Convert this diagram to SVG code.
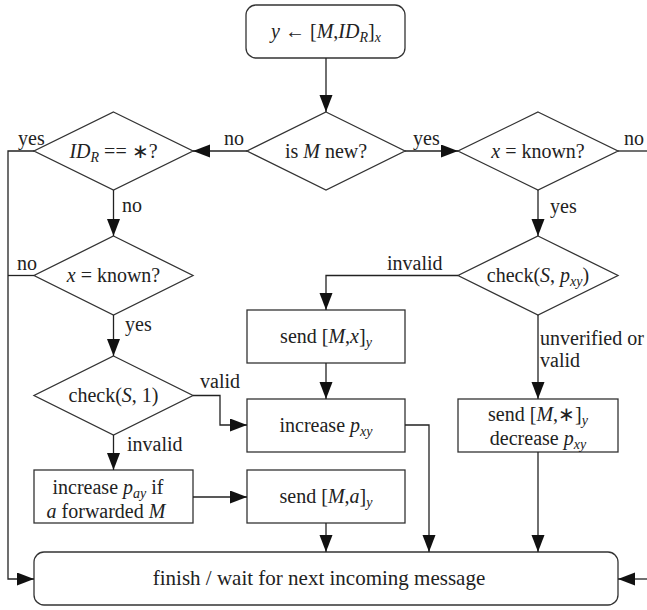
<svg xmlns="http://www.w3.org/2000/svg" width="647" height="610" viewBox="0 0 647 610">
<defs>
<marker id="ah" markerUnits="userSpaceOnUse" markerWidth="18" markerHeight="14" refX="17" refY="6.5" orient="auto">
<path d="M0,0 L17,6.5 L0,13 z" fill="#111"/>
</marker>
</defs>
<rect width="647" height="610" fill="#fff"/>

<g id="start">
<rect fill="#fff" stroke="#333" stroke-width="1.3" x="246" y="5" width="159" height="53" rx="10"/>
<text style="font-family:'Liberation Serif','Times New Roman',Tinos,serif" font-size="20" fill="#222" text-anchor="middle" x="326" y="38"><tspan font-style="italic">y</tspan> ← [<tspan font-style="italic">M</tspan>,<tspan font-style="italic">ID</tspan><tspan font-style="italic" font-size="14" dy="4">R</tspan><tspan dy="-4">]</tspan><tspan font-style="italic" font-size="14" dy="4">x</tspan></text>
</g>

<g id="isNew">
<polygon fill="#fff" stroke="#333" stroke-width="1.3" points="326,112 405,151 326,190 247,151"/>
<text style="font-family:'Liberation Serif','Times New Roman',Tinos,serif" font-size="20" fill="#222" text-anchor="middle" x="326" y="158">is <tspan font-style="italic">M</tspan> new?</text>
</g>

<g id="idr">
<polygon fill="#fff" stroke="#333" stroke-width="1.3" points="113.5,112 193,151 113.5,190 34,151"/>
<text style="font-family:'Liberation Serif','Times New Roman',Tinos,serif" font-size="20" fill="#222" text-anchor="middle" x="113.5" y="158"><tspan font-style="italic">ID</tspan><tspan font-style="italic" font-size="14" dy="4">R</tspan><tspan dy="-4"> == ∗?</tspan></text>
</g>

<g id="xKnownR">
<polygon fill="#fff" stroke="#333" stroke-width="1.3" points="538,112 618,151 538,190 458,151"/>
<text style="font-family:'Liberation Serif','Times New Roman',Tinos,serif" font-size="20" fill="#222" text-anchor="middle" x="538" y="158"><tspan font-style="italic">x</tspan> = known?</text>
</g>

<g id="checkR">
<polygon fill="#fff" stroke="#333" stroke-width="1.3" points="538,236 618,275.5 538,315 458,275.5"/>
<text style="font-family:'Liberation Serif','Times New Roman',Tinos,serif" font-size="20" fill="#222" text-anchor="middle" x="538" y="282">check(<tspan font-style="italic">S</tspan>, <tspan font-style="italic">p</tspan><tspan font-style="italic" font-size="14" dy="4">xy</tspan><tspan dy="-4">)</tspan></text>
</g>

<g id="xKnownL">
<polygon fill="#fff" stroke="#333" stroke-width="1.3" points="113.5,236 193,275.5 113.5,315 34,275.5"/>
<text style="font-family:'Liberation Serif','Times New Roman',Tinos,serif" font-size="20" fill="#222" text-anchor="middle" x="113.5" y="282"><tspan font-style="italic">x</tspan> = known?</text>
</g>

<g id="checkL">
<polygon fill="#fff" stroke="#333" stroke-width="1.3" points="113.5,356 193,395.5 113.5,435 34,395.5"/>
<text style="font-family:'Liberation Serif','Times New Roman',Tinos,serif" font-size="20" fill="#222" text-anchor="middle" x="113.5" y="402">check(<tspan font-style="italic">S</tspan>, 1)</text>
</g>

<g id="sendMx">
<rect fill="#fff" stroke="#333" stroke-width="1.3" x="247" y="310" width="158" height="53"/>
<text style="font-family:'Liberation Serif','Times New Roman',Tinos,serif" font-size="20" fill="#222" text-anchor="middle" x="326" y="343">send [<tspan font-style="italic">M</tspan>,<tspan font-style="italic">x</tspan>]<tspan font-style="italic" font-size="14" dy="4">y</tspan></text>
</g>

<g id="incPxy">
<rect fill="#fff" stroke="#333" stroke-width="1.3" x="247" y="399" width="158" height="53"/>
<text style="font-family:'Liberation Serif','Times New Roman',Tinos,serif" font-size="20" fill="#222" text-anchor="middle" x="326" y="432">increase <tspan font-style="italic">p</tspan><tspan font-style="italic" font-size="14" dy="4">xy</tspan></text>
</g>

<g id="sendMa">
<rect fill="#fff" stroke="#333" stroke-width="1.3" x="247" y="470" width="158" height="53"/>
<text style="font-family:'Liberation Serif','Times New Roman',Tinos,serif" font-size="20" fill="#222" text-anchor="middle" x="326" y="503">send [<tspan font-style="italic">M</tspan>,<tspan font-style="italic">a</tspan>]<tspan font-style="italic" font-size="14" dy="4">y</tspan></text>
</g>

<g id="incPay">
<rect fill="#fff" stroke="#333" stroke-width="1.3" x="34" y="470" width="159" height="53"/>
<text style="font-family:'Liberation Serif','Times New Roman',Tinos,serif" font-size="20" fill="#222" text-anchor="middle" x="108" y="494">increase <tspan font-style="italic">p</tspan><tspan font-style="italic" font-size="14" dy="4">ay</tspan><tspan dy="-4"> if</tspan></text>
<text style="font-family:'Liberation Serif','Times New Roman',Tinos,serif" font-size="20" fill="#222" text-anchor="middle" x="106" y="518"><tspan font-style="italic">a</tspan> forwarded <tspan font-style="italic">M</tspan></text>
</g>

<g id="sendMstar">
<rect fill="#fff" stroke="#333" stroke-width="1.3" x="458" y="399" width="160" height="53"/>
<text style="font-family:'Liberation Serif','Times New Roman',Tinos,serif" font-size="20" fill="#222" text-anchor="middle" x="538" y="421">send [<tspan font-style="italic">M</tspan>,∗]<tspan font-style="italic" font-size="14" dy="4">y</tspan></text>
<text style="font-family:'Liberation Serif','Times New Roman',Tinos,serif" font-size="20" fill="#222" text-anchor="middle" x="538" y="445">decrease <tspan font-style="italic">p</tspan><tspan font-style="italic" font-size="14" dy="4">xy</tspan></text>
</g>

<g id="finish">
<rect fill="#fff" stroke="#333" stroke-width="1.3" x="34" y="552" width="584" height="53" rx="10"/>
<text style="font-family:'Liberation Serif','Times New Roman',Tinos,serif" font-size="21" fill="#222" text-anchor="middle" x="319" y="585">finish / wait for next incoming message</text>
</g>

<g id="connectors" fill="none" stroke="#222" stroke-width="1.3">
<path d="M326,58 V112" marker-end="url(#ah)"/>
<path d="M247,151 H193" marker-end="url(#ah)"/>
<path d="M405,151 H458" marker-end="url(#ah)"/>
<path d="M618,151 H647"/>
<path d="M647,579 H618" marker-end="url(#ah)"/>
<path d="M538,190 V236" marker-end="url(#ah)"/>
<path d="M458,275.5 H326 V310" marker-end="url(#ah)"/>
<path d="M538,315 V399" marker-end="url(#ah)"/>
<path d="M326,363 V399" marker-end="url(#ah)"/>
<path d="M405,425 H429 V552" marker-end="url(#ah)"/>
<path d="M326,523 V552" marker-end="url(#ah)"/>
<path d="M538,452 V552" marker-end="url(#ah)"/>
<path d="M34,151 H8 V579 H34" marker-end="url(#ah)"/>
<path d="M113.5,190 V236" marker-end="url(#ah)"/>
<path d="M34,275.5 H8"/>
<path d="M113.5,315 V356" marker-end="url(#ah)"/>
<path d="M193,395.5 H220 V425 H247" marker-end="url(#ah)"/>
<path d="M113.5,435 V470" marker-end="url(#ah)"/>
<path d="M193,497 H247" marker-end="url(#ah)"/>
</g>
<g id="labels" font-size="20" fill="#222" stroke="none">
<text style="font-family:'Liberation Serif','Times New Roman',Tinos,serif" x="224" y="145">no</text>
<text style="font-family:'Liberation Serif','Times New Roman',Tinos,serif" x="413" y="145">yes</text>
<text style="font-family:'Liberation Serif','Times New Roman',Tinos,serif" x="624" y="145">no</text>
<text style="font-family:'Liberation Serif','Times New Roman',Tinos,serif" x="550" y="213">yes</text>
<text style="font-family:'Liberation Serif','Times New Roman',Tinos,serif" x="387" y="270">invalid</text>
<text style="font-family:'Liberation Serif','Times New Roman',Tinos,serif" x="540" y="345">unverified or</text>
<text style="font-family:'Liberation Serif','Times New Roman',Tinos,serif" x="540" y="367">valid</text>
<text style="font-family:'Liberation Serif','Times New Roman',Tinos,serif" x="18" y="145">yes</text>
<text style="font-family:'Liberation Serif','Times New Roman',Tinos,serif" x="122" y="212">no</text>
<text style="font-family:'Liberation Serif','Times New Roman',Tinos,serif" x="17" y="270">no</text>
<text style="font-family:'Liberation Serif','Times New Roman',Tinos,serif" x="125" y="331">yes</text>
<text style="font-family:'Liberation Serif','Times New Roman',Tinos,serif" x="200" y="388">valid</text>
<text style="font-family:'Liberation Serif','Times New Roman',Tinos,serif" x="127" y="451">invalid</text>
</g>
</svg>
